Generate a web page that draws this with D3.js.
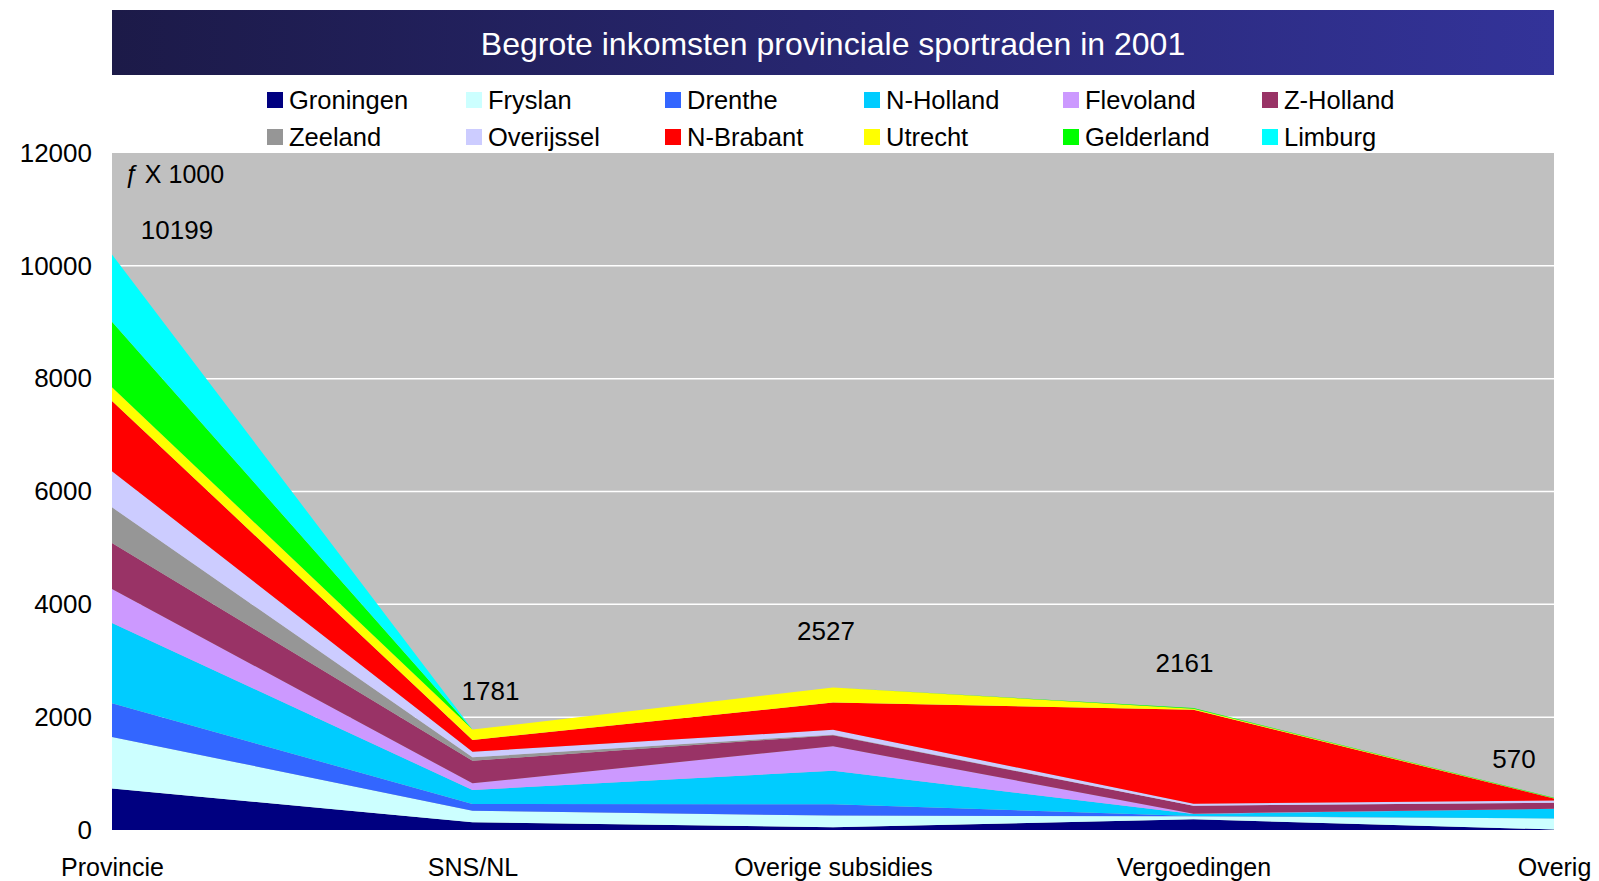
<!DOCTYPE html>
<html>
<head>
<meta charset="utf-8">
<script src="https://cdn.jsdelivr.net/npm/d3@7"></script>
<style>
  body { margin: 0; background: #fff; }
  svg { display: block; font-family: "Liberation Sans", Arial, sans-serif; }
</style>
</head>
<body>
<svg id="chart" width="1599" height="881"></svg>
<script>
var categories = ["Provincie", "SNS/NL", "Overige subsidies", "Vergoedingen", "Overig"];
var provinces = ["Groningen", "Fryslan", "Drenthe", "N-Holland", "Flevoland", "Z-Holland",
                 "Zeeland", "Overijssel", "N-Brabant", "Utrecht", "Gelderland", "Limburg"];

// f x 1000, per categorie
var groningen  = [735, 136, 50, 190, 10];
var fryslan    = [915, 207, 205, 55, 195];
var drenthe    = [595, 118, 200, 5, 0];
var nholland   = [1425, 248, 595, 35, 170];
var flevoland  = [600, 118, 435, 5, 0];
var zholland   = [815, 402, 195, 140, 107];
var zeeland    = [635, 59, 10, 0, 0];
var overijssel = [640, 100, 85, 36, 40];
var nbrabant   = [1245, 207, 485, 1665, 38];
var utrecht    = [245, 186, 267, 20, 5];
var gelderland = [1160, 0, 0, 10, 5];
var limburg    = [1189, 0, 0, 0, 0];

var yTicks = [0, 2000, 4000, 6000, 8000, 10000, 12000];

var colors = ["#000080", "#ccffff", "#3366ff", "#00ccff", "#cc99ff", "#993366",
              "#969696", "#ccccff", "#ff0000", "#ffff00", "#00ff00", "#00ffff"];

// label shift from the top of each stack (layout only)
var labelShift = [[65, -25], [18, -39], [-7, -57], [-9, -45], [-40, -39]];

var values = [groningen, fryslan, drenthe, nholland, flevoland, zholland,
              zeeland, overijssel, nbrabant, utrecht, gelderland, limburg];

var table = categories.map(function(c, i) {
  var row = { cat: c };
  provinces.forEach(function(p, j) { row[p] = values[j][i]; });
  return row;
});

var svg = d3.select("#chart");
var plotLeft = 112, plotRight = 1554, plotTop = 153, plotBottom = 830;

var x = d3.scalePoint().domain(categories).range([plotLeft, plotRight]).padding(0);
var y = d3.scaleLinear().domain([0, 12000]).range([plotBottom, plotTop]);

// title bar
var grad = svg.append("defs").append("linearGradient").attr("id", "titlegrad");
grad.append("stop").attr("offset", "0%").attr("stop-color", "#1c1a48");
grad.append("stop").attr("offset", "100%").attr("stop-color", "#333399");

svg.append("rect")
  .attr("x", plotLeft).attr("y", 10)
  .attr("width", plotRight - plotLeft).attr("height", 65)
  .style("fill", "url(#titlegrad)");

svg.append("text")
  .attr("x", (plotLeft + plotRight) / 2).attr("y", 55)
  .attr("text-anchor", "middle")
  .style("fill", "#fff")
  .style("font-size", "32px")
  .text("Begrote inkomsten provinciale sportraden in 2001");

// plot area + grid
svg.append("rect")
  .attr("x", plotLeft).attr("y", plotTop)
  .attr("width", plotRight - plotLeft).attr("height", plotBottom - plotTop)
  .style("fill", "#c0c0c0");

svg.append("g").selectAll("line")
  .data(yTicks.filter(function(t) { return t > 0 && t < 12000; }))
  .enter().append("line")
    .attr("x1", plotLeft).attr("x2", plotRight)
    .attr("y1", function(d) { return y(d); })
    .attr("y2", function(d) { return y(d); })
    .style("stroke", "#fff")
    .style("stroke-width", 1.5);

// stacked areas
var stack = d3.stack().keys(provinces);
var series = stack(table);

var area = d3.area()
  .x(function(d) { return x(d.data.cat); })
  .y0(function(d) { return y(d[0]); })
  .y1(function(d) { return y(d[1]); });

svg.append("g").selectAll("path")
  .data(series)
  .enter().append("path")
    .attr("d", area)
    .style("fill", function(d, i) { return colors[i]; });

// y axis labels
var yAxis = d3.axisLeft(y).tickValues(yTicks).tickSize(0).tickPadding(20)
  .tickFormat(d3.format("d"));
var ya = svg.append("g").attr("transform", "translate(" + plotLeft + ",0)").call(yAxis);
ya.select(".domain").remove();
ya.selectAll("text")
  .style("font-family", "Liberation Sans, Arial, sans-serif")
  .style("font-size", "26px")
  .style("fill", "#000");

// x axis labels
var xAxis = d3.axisBottom(x).tickSize(0).tickPadding(28);
var xa = svg.append("g").attr("transform", "translate(0," + plotBottom + ")").call(xAxis);
xa.select(".domain").remove();
xa.selectAll("text")
  .style("font-family", "Liberation Sans, Arial, sans-serif")
  .style("font-size", "25px")
  .style("fill", "#000");

// totals
var totals = categories.map(function(c, i) {
  return d3.sum(values, function(v) { return v[i]; });
});

svg.append("g").selectAll("text")
  .data(totals)
  .enter().append("text")
    .attr("x", function(d, i) { return x(categories[i]) + labelShift[i][0]; })
    .attr("y", function(d, i) { return y(d) + labelShift[i][1]; })
    .attr("dy", "0.35em")
    .attr("text-anchor", "middle")
    .style("font-size", "26px")
    .text(function(d) { return d; });

var unit = svg.append("text")
  .attr("x", plotLeft + 12).attr("y", 174)
  .attr("dy", "0.35em")
  .style("font-size", "25px");
unit.append("tspan").style("font-style", "italic").text("ƒ");
unit.append("tspan").text(" X 1000");

// legend
svg.append("rect")
  .attr("x", 245).attr("y", 78)
  .attr("width", 1188).attr("height", 74)
  .style("fill", "#fff");

var legend = svg.append("g").selectAll("g")
  .data(provinces)
  .enter().append("g")
    .attr("transform", function(d, i) {
      var col = i % 6, row = Math.floor(i / 6);
      return "translate(" + (267 + col * 199) + "," + (100 + row * 37) + ")";
    });

legend.append("rect")
  .attr("x", 0).attr("y", -8)
  .attr("width", 16).attr("height", 16)
  .style("fill", function(d, i) { return colors[i]; });

legend.append("text")
  .attr("x", 22).attr("y", 0)
  .attr("dy", "0.36em")
  .style("font-size", "25.5px")
  .text(function(d) { return d; });
</script>
</body>
</html>
